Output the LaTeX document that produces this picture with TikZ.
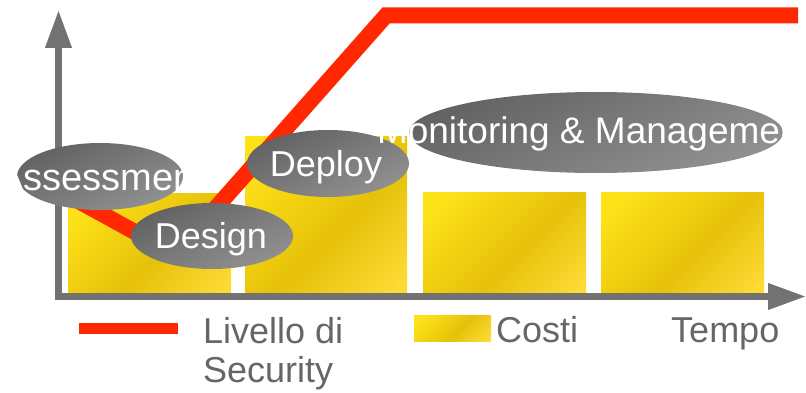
\documentclass[tikz,border=0pt]{standalone}
\usepackage{fontspec}
\setmainfont{Liberation Sans}
\usetikzlibrary{arrows.meta,shapes.geometric}
\definecolor{axisgray}{RGB}{114,114,114}
\definecolor{textgray}{RGB}{102,102,102}
\definecolor{secred}{RGB}{255,40,0}
\definecolor{yelA}{RGB}{253,226,24}
\definecolor{yelB}{RGB}{230,193,10}
\definecolor{yelC}{RGB}{253,218,52}
\definecolor{ellD}{RGB}{98,98,98}
\definecolor{ellL}{RGB}{145,145,145}
\pgfdeclarehorizontalshading{costshade}{100bp}{color(0bp)=(yelA); color(22bp)=(yelA); color(56bp)=(yelB); color(82bp)=(yelC); color(100bp)=(yelC)}
\begin{document}
\begin{tikzpicture}[x=1pt,y=-1pt,
  bar/.style={draw=none,shading=costshade,shading angle=-45},
  axisline/.style={draw=axisgray,line width=7pt,-{Triangle[length=38pt,width=25pt]}},
  seclevel/.style={draw=secred,line width=16pt,line join=miter},
  phase/.style={ellipse,draw=none,inner sep=0pt,top color=ellD,bottom color=ellL,shading angle=25},
  phasetext/.style={text=white,font=\fontsize{36}{43}\selectfont,anchor=base,inner sep=0pt},
  legendtext/.style={text=textgray,font=\fontsize{36}{39}\selectfont,anchor=base west,inner sep=0pt,align=left}
]
\useasboundingbox (0,0) rectangle (806,393);

% cost bars
\shade[bar] (68,193) rectangle (231,293);
\shade[bar] (245,137) rectangle (407,293);
\shade[bar] (423,192) rectangle (586,293);
\shade[bar] (601,192) rectangle (764,293);

% axes
\coordinate (corner) at (58.5,300);
\coordinate (xstart) at (55,296.5);
\coordinate (ytip) at (58.5,10);
\coordinate (xtip) at (806,296.5);
\draw[axisline] (corner) -- (ytip);
\draw[axisline] (xstart) -- (xtip);

% security level
\coordinate (s0) at (62,192);
\coordinate (s1) at (175,254);
\coordinate (s2) at (386,15.5);
\coordinate (s3) at (798,15.5);
\draw[seclevel] (s0) -- (s1) -- (s2) -- (s3);

% phases
\node[phase,minimum width=166pt,minimum height=67pt] (assessE) at (100,176.5) {};
\node[phasetext,font=\fontsize{38}{45}\selectfont] (assessT) at (102,190) {Assessment};
\node[phase,minimum width=162pt,minimum height=66pt] (designE) at (212,236) {};
\node[phasetext] (designT) at (211,248.5) {Design};
\node[phase,minimum width=162pt,minimum height=67pt] (deployE) at (328,163.5) {};
\node[phasetext] (deployT) at (326,176) {Deploy};
\node[phase,minimum width=374pt,minimum height=81pt] (monE) at (596,132.5) {};
\node[phasetext,font=\fontsize{37}{44}\selectfont] (monT) at (594,144) {Monitoring \& Management};

% legend
\fill[secred] (79,323) rectangle (178,334);
\node[legendtext] (secT) at (203,382) {Livello di\\Security};
\shade[bar] (414,315) rectangle (491,341);
\node[legendtext] (costT) at (496,342) {Costi};
\node[legendtext] (timeT) at (671,342) {Tempo};
\end{tikzpicture}
\end{document}
